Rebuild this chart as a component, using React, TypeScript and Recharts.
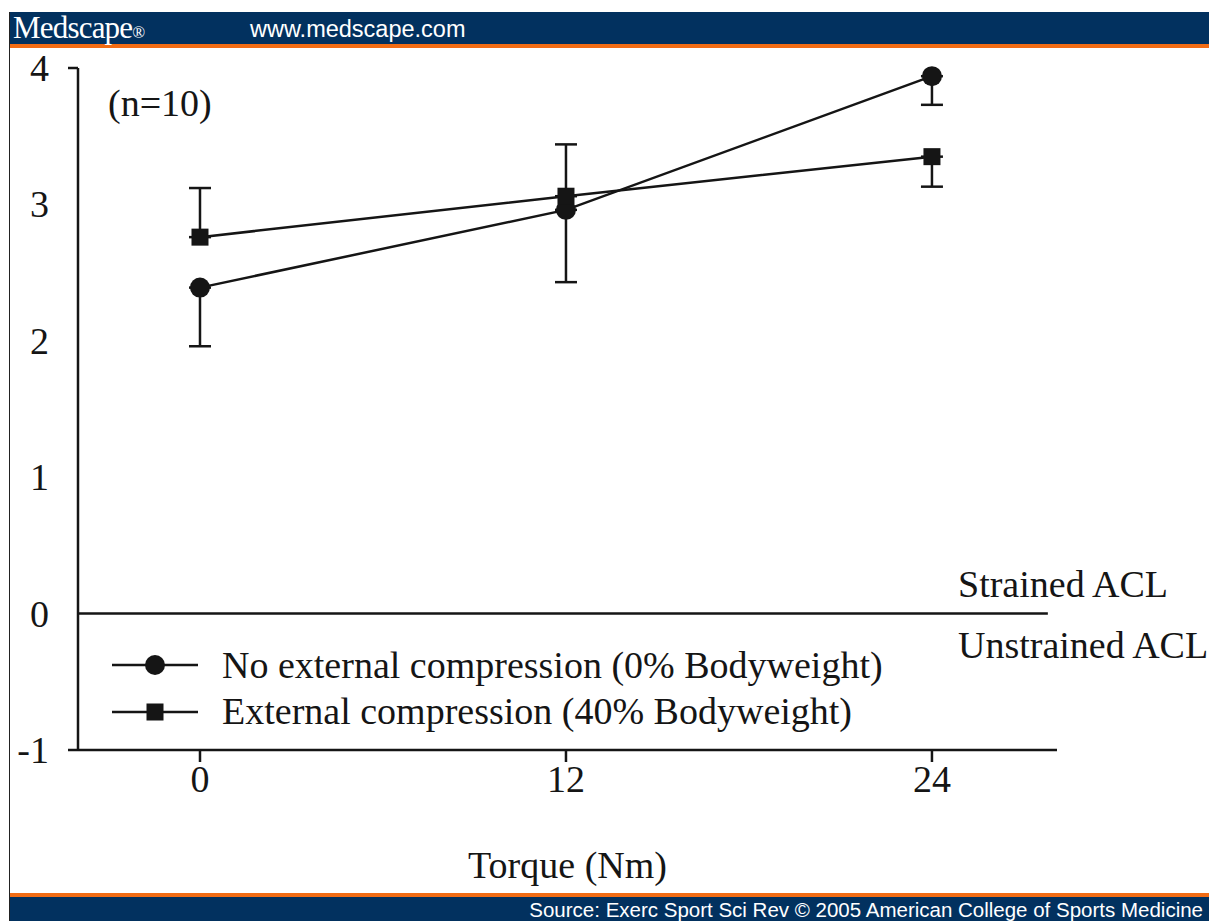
import React from 'react';
import { LineChart, Line, XAxis, YAxis, ErrorBar, ReferenceLine, Legend } from 'recharts';

// Values (ACL strain vs. applied torque)
const torqueNm = [0, 12, 24];
const noCompression = [2.39, 2.96, 3.94];
const noCompressionErrDown = [0.43, 0.53, 0.21];
const withCompression = [2.76, 3.06, 3.35];
const withCompressionErrUp = [0.36, 0.38, 0];
const withCompressionErrDown = [0, 0, 0.22];
const yTicks = [-1, 0, 1, 2, 3, 4];
const xTicks = [0, 12, 24];

const seriesNames = [
  'No external compression (0% Bodyweight)',
  'External compression (40% Bodyweight)',
];

const data = torqueNm.map((t, i) => ({
  torque: t,
  none: noCompression[i],
  noneErr: [noCompressionErrDown[i], 0],
  comp: withCompression[i],
  compErr: [withCompressionErrDown[i], withCompressionErrUp[i]],
}));

const INK = '#151515';
const SERIF = '"Liberation Serif", "Times New Roman", serif';
const SANS = '"Liberation Sans", Arial, sans-serif';
const NAVY = '#02315f';
const ORANGE = '#f26c14';

const YTick = ({ x, y, payload }: any) => (
  <g>
    <text x={x} y={y} textAnchor="end" dominantBaseline="central" fontSize={38} fontFamily={SERIF} fill={INK}>
      {payload.value}
    </text>
    {(payload.value === 4 || payload.value === -1) && (
      <line x1={x + 19} x2={x + 29} y1={y} y2={y} stroke={INK} strokeWidth={2.5} />
    )}
  </g>
);

const XTick = ({ x, y, payload }: any) => (
  <text x={x} y={y} dy="0.71em" textAnchor="middle" fontSize={38} fontFamily={SERIF} fill={INK}>
    {payload.value}
  </text>
);

const SquareDot = ({ cx, cy }: any) => (
  <rect x={cx - 8.5} y={cy - 8.5} width={17} height={17} fill={INK} />
);

const LegendBox = () => (
  <svg width={800} height={110}>
    <line x1={12} x2={98} y1={35} y2={35} stroke={INK} strokeWidth={2.5} />
    <circle cx={55} cy={35} r={10} fill={INK} />
    <text x={122} y={48} fontSize={38} fontFamily={SERIF} fill={INK}>{seriesNames[0]}</text>
    <line x1={12} x2={98} y1={82} y2={82} stroke={INK} strokeWidth={2.5} />
    <rect x={46.5} y={73.5} width={17} height={17} fill={INK} />
    <text x={122} y={94} fontSize={38} fontFamily={SERIF} fill={INK}>{seriesNames[1]}</text>
  </svg>
);

export default function App() {
  return (
    <div style={{ position: 'absolute', left: 0, top: 0, width: 1209, height: 921, background: '#fff', overflow: 'hidden' }}>
      {/* frame, header and footer bands */}
      <div style={{ position: 'absolute', left: 9, top: 12, width: 1200, height: 909, borderLeft: '1.5px solid #222', borderTop: '1px solid #222' }} />
      <div style={{ position: 'absolute', left: 10, top: 12, width: 1199, height: 32, background: NAVY }} />
      <div style={{ position: 'absolute', left: 10, top: 44, width: 1199, height: 4, background: ORANGE }} />
      <div style={{ position: 'absolute', left: 10, top: 893, width: 1199, height: 4, background: ORANGE }} />
      <div style={{ position: 'absolute', left: 10, top: 897, width: 1199, height: 24, background: NAVY }} />

      <div style={{ position: 'absolute', left: 0, top: 0 }}>
        <LineChart width={1209} height={921} data={data} margin={{ top: 68, right: 152, bottom: 0, left: 0 }}>
          <XAxis
            dataKey="torque"
            type="number"
            domain={[-4, 28.1]}
            ticks={xTicks}
            allowDataOverflow
            height={171}
            tickSize={12}
            tickMargin={3}
            tick={<XTick />}
            axisLine={{ stroke: INK, strokeWidth: 2.5 }}
            tickLine={{ stroke: INK, strokeWidth: 2.5 }}
            label={{ value: 'Torque (Nm)', position: 'insideBottom', offset: 43, fontSize: 38, fontFamily: SERIF, fill: INK }}
          />
          <YAxis
            type="number"
            domain={[-1, 4]}
            ticks={yTicks}
            width={78}
            tickSize={10}
            tickMargin={19}
            tickLine={false}
            tick={<YTick />}
            axisLine={{ stroke: INK, strokeWidth: 2.5 }}
          />
          <ReferenceLine
            segment={[{ x: -4, y: 0 }, { x: 27.8, y: 0 }]}
            stroke={INK}
            strokeWidth={2.5}
          />
          <Line
            dataKey="none"
            name={seriesNames[0]}
            stroke={INK}
            strokeWidth={2.5}
            dot={{ r: 10, fill: INK, stroke: 'none' }}
            activeDot={false}
            isAnimationActive={false}
          >
            <ErrorBar dataKey="noneErr" width={11} stroke={INK} strokeWidth={2.5} />
          </Line>
          <Line
            dataKey="comp"
            name={seriesNames[1]}
            stroke={INK}
            strokeWidth={2.5}
            dot={<SquareDot />}
            activeDot={false}
            isAnimationActive={false}
          >
            <ErrorBar dataKey="compErr" width={11} stroke={INK} strokeWidth={2.5} />
          </Line>
          <Legend
            layout="horizontal"
            verticalAlign="middle"
            align="center"
            content={<LegendBox />}
            wrapperStyle={{ left: 100, top: 630, width: 800, height: 110 }}
          />
        </LineChart>
      </div>

      {/* annotations and band texts */}
      <svg width={1209} height={921} style={{ position: 'absolute', left: 0, top: 0, pointerEvents: 'none' }}>
        <text x={108} y={116} fontSize={38} fontFamily={SERIF} fill={INK}>(n=10)</text>
        <text x={958} y={597} fontSize={38} fontFamily={SERIF} fill={INK}>Strained ACL</text>
        <text x={958} y={658} fontSize={38} fontFamily={SERIF} fill={INK}>Unstrained ACL</text>
        <text x={13} y={38} fontSize={31} fontFamily={SERIF} fill="#fff" letterSpacing={-0.8}>
          Medscape<tspan fontSize={17}>®</tspan>
        </text>
        <text x={250} y={37} fontSize={23.5} fontFamily={SANS} fill="#fff">www.medscape.com</text>
        <text x={1203} y={917} textAnchor="end" fontSize={20.5} fontFamily={SANS} fill="#fff">
          Source: Exerc Sport Sci Rev © 2005 American College of Sports Medicine
        </text>
      </svg>
    </div>
  );
}
